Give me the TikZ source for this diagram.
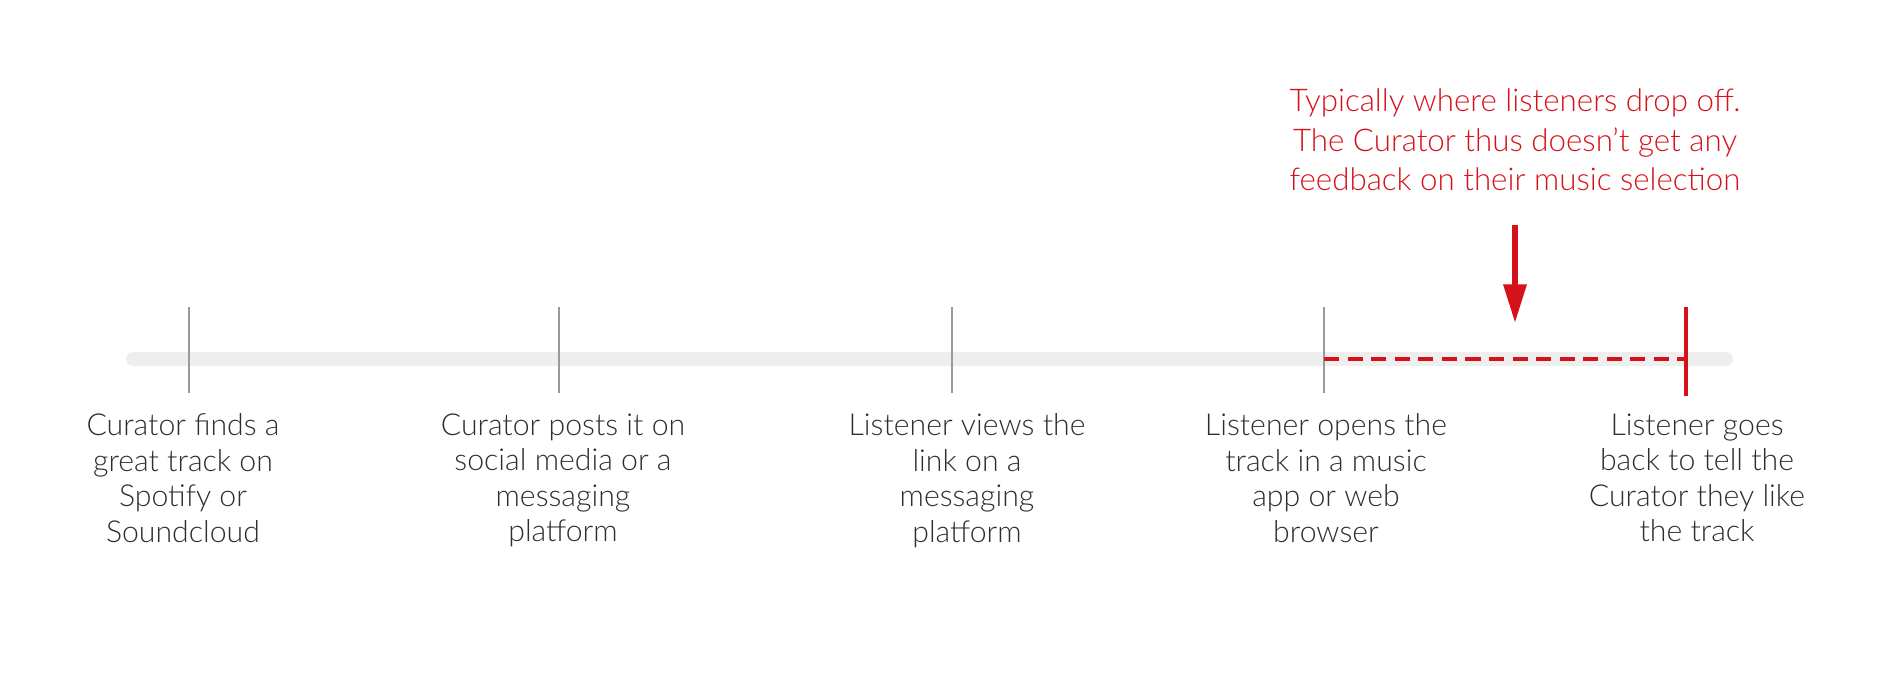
\documentclass[tikz,border=0pt]{standalone}
\usepackage{fontspec}
\setmainfont{Lato}[UprightFont={* Light}]
\usetikzlibrary{arrows.meta,calc}

\definecolor{dropred}{HTML}{D5121A}
\definecolor{labelgray}{HTML}{2E2E2E}
\definecolor{tickgray}{HTML}{9A9A9A}
\definecolor{bargray}{HTML}{EEEEEE}

\begin{document}
\begin{tikzpicture}[x=0.01cm,y=-0.01cm,>=Latex,
    steplabel/.style={align=center,text=labelgray,inner sep=0pt,anchor=north,
        font=\fontsize{8.6}{10.1}\selectfont},
    notetext/.style={align=center,text=dropred,inner sep=0pt,anchor=north,
        font=\fontsize{8.9}{11.3}\selectfont}]

        \useasboundingbox (0,0) rectangle (1890,700);

        % Track bar
        \draw[bargray,line width=4pt,line cap=round] (133,359) -- (1726,359);

        % Step ticks
        \foreach \x/\name in {189/find,559/post,952/view,1324/open} {
            \coordinate (\name-top) at (\x,307);
            \coordinate (\name-bot) at (\x,393);
            \draw[tickgray,line width=0.45pt] (\name-top) -- (\name-bot);
        }

        % Step labels
        \node[steplabel] (findlabel) at (183,413)
            {Curator finds a\\great track on\\Spotify or\\Soundcloud};
        \node[steplabel] (postlabel) at (563,413)
            {Curator posts it on\\social media or a\\messaging\\platform};
        \node[steplabel] (viewlabel) at (967,413)
            {Listener views the\\link on a\\messaging\\platform};
        \node[steplabel] (openlabel) at (1326,413)
            {Listener opens the\\track in a music\\app or web\\browser};
        \node[steplabel] (backlabel) at (1697,413)
            {Listener goes\\back to tell the\\Curator they like\\the track};

        % Drop-off stretch
        \coordinate (back-top) at (1686,307);
        \coordinate (back-bot) at (1686,396);
        \coordinate (back-mid) at (1686,359);
        \draw[dropred,line width=1.1pt,dash pattern=on 4.3pt off 2.4pt]
            (open-top|-back-mid) -- (back-mid);
        \draw[dropred,line width=0.9pt] (back-top) -- (back-bot);

        % Note
        \node[notetext] (note) at (1515,88)
            {Typically where listeners drop off.\\The Curator thus doesn't get any\\feedback on their music selection};

        \coordinate (drop-top) at (1515,225);
        \coordinate (drop-tip) at (1515,323);
        \draw[dropred,line width=1.7pt,-{Triangle[length=11pt,width=6.3pt]}]
            (drop-top) -- (drop-tip);

\end{tikzpicture}
\end{document}
